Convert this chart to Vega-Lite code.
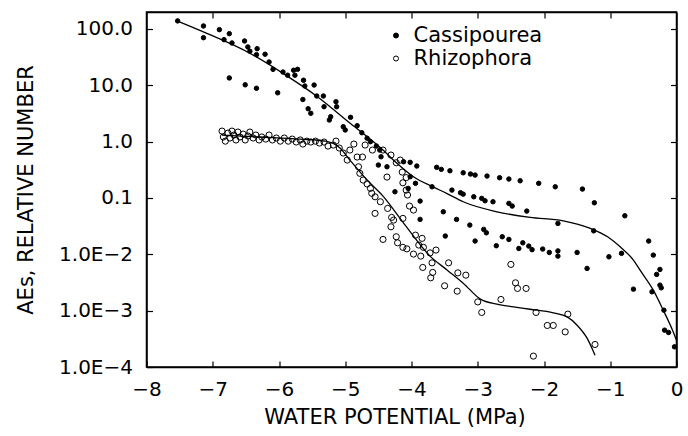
{
  "$schema": "https://vega.github.io/schema/vega-lite/v6.json",
  "width": 530,
  "height": 355,
  "autosize": {"type": "none"},
  "padding": {"left": 146.5, "top": 12, "right": 11.5, "bottom": 69},
  "background": "white",
  "config": {
    "view": {"stroke": "black", "strokeWidth": 1.5},
    "font": "DejaVu Sans",
    "axis": {
      "domainColor": "black", "domainWidth": 1.5, "tickColor": "black", "tickWidth": 1.2,
      "labelColor": "black", "titleColor": "black", "grid": false,
      "labelFont": "DejaVu Sans", "titleFont": "DejaVu Sans",
      "labelFontWeight": "normal", "titleFontWeight": "normal",
      "labelFlush": false, "labelOverlap": false, "labelFontSize": 20, "titleFontSize": 21
    },
    "legend": {"labelFont": "DejaVu Sans", "labelFontSize": 21, "labelColor": "black"}
  },
  "datasets": {
    "cas": [
      {"s":"Cassipourea","x":-7.53,"y":139},{"s":"Cassipourea","x":-7.14,"y":113},{"s":"Cassipourea","x":-7.14,"y":70.0},{"s":"Cassipourea","x":-6.90,"y":97.2},{"s":"Cassipourea","x":-6.83,"y":64.6},{"s":"Cassipourea","x":-6.75,"y":82.5},{"s":"Cassipourea","x":-6.71,"y":56.4},{"s":"Cassipourea","x":-6.52,"y":61.2},{"s":"Cassipourea","x":-6.47,"y":47.9},{"s":"Cassipourea","x":-6.44,"y":40.2},{"s":"Cassipourea","x":-6.33,"y":44.7},{"s":"Cassipourea","x":-6.34,"y":35.0},{"s":"Cassipourea","x":-6.21,"y":35.6},{"s":"Cassipourea","x":-6.15,"y":25.9},{"s":"Cassipourea","x":-6.09,"y":19.2},{"s":"Cassipourea","x":-5.94,"y":17.2},{"s":"Cassipourea","x":-5.87,"y":15.1},{"s":"Cassipourea","x":-5.78,"y":18.5},{"s":"Cassipourea","x":-5.72,"y":19.2},{"s":"Cassipourea","x":-5.76,"y":15.1},{"s":"Cassipourea","x":-5.63,"y":12.3},{"s":"Cassipourea","x":-5.61,"y":9.72},{"s":"Cassipourea","x":-5.64,"y":5.60},{"s":"Cassipourea","x":-5.56,"y":3.84},
      {"s":"Cassipourea","x":-6.75,"y":13.5},{"s":"Cassipourea","x":-6.51,"y":10.2},{"s":"Cassipourea","x":-6.34,"y":8.85},{"s":"Cassipourea","x":-6.02,"y":7.36},
      {"s":"Cassipourea","x":-5.47,"y":10.1},{"s":"Cassipourea","x":-5.52,"y":3.18},{"s":"Cassipourea","x":-5.43,"y":6.46},{"s":"Cassipourea","x":-5.33,"y":6.46},{"s":"Cassipourea","x":-5.32,"y":4.17},{"s":"Cassipourea","x":-5.14,"y":5.11},{"s":"Cassipourea","x":-5.13,"y":4.17},{"s":"Cassipourea","x":-5.22,"y":2.77},{"s":"Cassipourea","x":-5.24,"y":2.42},{"s":"Cassipourea","x":-4.92,"y":2.70},{"s":"Cassipourea","x":-5.03,"y":1.84},{"s":"Cassipourea","x":-5.00,"y":1.61},{"s":"Cassipourea","x":-4.82,"y":1.92},{"s":"Cassipourea","x":-4.75,"y":1.44},{"s":"Cassipourea","x":-4.67,"y":1.15},{"s":"Cassipourea","x":-4.62,"y":1.00},{"s":"Cassipourea","x":-4.53,"y":0.835},{"s":"Cassipourea","x":-4.48,"y":0.709},{"s":"Cassipourea","x":-4.46,"y":0.539},{"s":"Cassipourea","x":-4.50,"y":0.384},{"s":"Cassipourea","x":-4.37,"y":0.358},{"s":"Cassipourea","x":-4.12,"y":0.440},{"s":"Cassipourea","x":-4.02,"y":0.429},{"s":"Cassipourea","x":-3.92,"y":0.369},{"s":"Cassipourea","x":-4.02,"y":0.238},{"s":"Cassipourea","x":-3.94,"y":0.182},{"s":"Cassipourea","x":-4.05,"y":0.148},{"s":"Cassipourea","x":-4.25,"y":0.129},
      {"s":"Cassipourea","x":-3.62,"y":0.350},{"s":"Cassipourea","x":-3.55,"y":0.322},{"s":"Cassipourea","x":-3.42,"y":0.304},{"s":"Cassipourea","x":-3.22,"y":0.280},{"s":"Cassipourea","x":-3.11,"y":0.266},{"s":"Cassipourea","x":-3.04,"y":0.255},{"s":"Cassipourea","x":-2.86,"y":0.245},{"s":"Cassipourea","x":-2.67,"y":0.229},{"s":"Cassipourea","x":-2.53,"y":0.217},{"s":"Cassipourea","x":-2.36,"y":0.202},
      {"s":"Cassipourea","x":-3.69,"y":0.158},{"s":"Cassipourea","x":-3.39,"y":0.138},{"s":"Cassipourea","x":-3.26,"y":0.124},{"s":"Cassipourea","x":-3.22,"y":0.117},{"s":"Cassipourea","x":-3.06,"y":0.105},{"s":"Cassipourea","x":-2.94,"y":0.0984},{"s":"Cassipourea","x":-2.89,"y":0.0892},{"s":"Cassipourea","x":-2.77,"y":0.0857},{"s":"Cassipourea","x":-2.53,"y":0.0802},{"s":"Cassipourea","x":-2.48,"y":0.0718},{"s":"Cassipourea","x":-2.26,"y":0.0585},
      {"s":"Cassipourea","x":-3.87,"y":0.0881},{"s":"Cassipourea","x":-3.52,"y":0.0569},{"s":"Cassipourea","x":-3.87,"y":0.0417},{"s":"Cassipourea","x":-3.32,"y":0.0417},{"s":"Cassipourea","x":-3.12,"y":0.0330},{"s":"Cassipourea","x":-2.91,"y":0.0277},{"s":"Cassipourea","x":-2.87,"y":0.0241},{"s":"Cassipourea","x":-3.49,"y":0.0211},{"s":"Cassipourea","x":-3.04,"y":0.0172},{"s":"Cassipourea","x":-2.63,"y":0.0205},{"s":"Cassipourea","x":-2.53,"y":0.0184},{"s":"Cassipourea","x":-2.72,"y":0.0142},{"s":"Cassipourea","x":-2.32,"y":0.0160},{"s":"Cassipourea","x":-2.38,"y":0.0127},{"s":"Cassipourea","x":-2.23,"y":0.0140},
      {"s":"Cassipourea","x":-2.08,"y":0.182},{"s":"Cassipourea","x":-1.83,"y":0.158},{"s":"Cassipourea","x":-1.42,"y":0.144},{"s":"Cassipourea","x":-1.24,"y":0.0822},{"s":"Cassipourea","x":-0.78,"y":0.0483},{"s":"Cassipourea","x":-1.79,"y":0.0354},{"s":"Cassipourea","x":-1.25,"y":0.0261},{"s":"Cassipourea","x":-0.42,"y":0.0172},{"s":"Cassipourea","x":-2.18,"y":0.0121},{"s":"Cassipourea","x":-2.02,"y":0.0124},{"s":"Cassipourea","x":-1.92,"y":0.0108},{"s":"Cassipourea","x":-1.79,"y":0.0115},{"s":"Cassipourea","x":-1.79,"y":0.00929},{"s":"Cassipourea","x":-1.50,"y":0.0108},{"s":"Cassipourea","x":-1.02,"y":0.00903},{"s":"Cassipourea","x":-0.83,"y":0.0104},{"s":"Cassipourea","x":-0.35,"y":0.00968},
      {"s":"Cassipourea","x":-1.35,"y":0.00562},{"s":"Cassipourea","x":-0.65,"y":0.00241},{"s":"Cassipourea","x":-0.25,"y":0.00539},{"s":"Cassipourea","x":-0.30,"y":0.00440},{"s":"Cassipourea","x":-0.37,"y":0.00216},{"s":"Cassipourea","x":-0.25,"y":0.00284},{"s":"Cassipourea","x":-0.23,"y":0.00254},{"s":"Cassipourea","x":-0.19,"y":0.00102},{"s":"Cassipourea","x":-0.18,"y":0.000451},{"s":"Cassipourea","x":-0.12,"y":0.000410},{"s":"Cassipourea","x":-0.03,"y":0.000228}
    ],
    "rhi": [
      {"s":"Rhizophora","x":-6.86,"y":1.54},{"s":"Rhizophora","x":-6.84,"y":1.21},{"s":"Rhizophora","x":-6.81,"y":1.02},{"s":"Rhizophora","x":-6.77,"y":1.42},{"s":"Rhizophora","x":-6.74,"y":1.16},{"s":"Rhizophora","x":-6.71,"y":1.54},{"s":"Rhizophora","x":-6.68,"y":1.31},{"s":"Rhizophora","x":-6.65,"y":1.07},{"s":"Rhizophora","x":-6.62,"y":1.48},{"s":"Rhizophora","x":-6.59,"y":1.21},{"s":"Rhizophora","x":-6.54,"y":1.36},{"s":"Rhizophora","x":-6.51,"y":1.07},{"s":"Rhizophora","x":-6.47,"y":1.26},{"s":"Rhizophora","x":-6.44,"y":1.48},{"s":"Rhizophora","x":-6.39,"y":1.16},{"s":"Rhizophora","x":-6.35,"y":1.31},{"s":"Rhizophora","x":-6.30,"y":1.07},{"s":"Rhizophora","x":-6.26,"y":1.21},{"s":"Rhizophora","x":-6.20,"y":1.11},{"s":"Rhizophora","x":-6.15,"y":1.31},{"s":"Rhizophora","x":-6.10,"y":1.07},{"s":"Rhizophora","x":-6.04,"y":1.16},{"s":"Rhizophora","x":-5.98,"y":1.02},{"s":"Rhizophora","x":-5.92,"y":1.16},{"s":"Rhizophora","x":-5.86,"y":1.02},{"s":"Rhizophora","x":-5.80,"y":1.11},{"s":"Rhizophora","x":-5.74,"y":0.984},{"s":"Rhizophora","x":-5.68,"y":1.07},{"s":"Rhizophora","x":-5.64,"y":0.906},{"s":"Rhizophora","x":-5.58,"y":1.02},{"s":"Rhizophora","x":-5.52,"y":0.984},{"s":"Rhizophora","x":-5.45,"y":1.02},{"s":"Rhizophora","x":-5.39,"y":0.944},{"s":"Rhizophora","x":-5.32,"y":0.984},{"s":"Rhizophora","x":-5.26,"y":0.835},{"s":"Rhizophora","x":-5.18,"y":0.870},{"s":"Rhizophora","x":-5.14,"y":1.02},{"s":"Rhizophora","x":-5.09,"y":0.770},{"s":"Rhizophora","x":-5.03,"y":0.628},{"s":"Rhizophora","x":-4.97,"y":0.471},{"s":"Rhizophora","x":-4.93,"y":0.709},{"s":"Rhizophora","x":-4.87,"y":0.906},{"s":"Rhizophora","x":-4.82,"y":0.533},{"s":"Rhizophora","x":-4.74,"y":0.533},{"s":"Rhizophora","x":-4.70,"y":0.870},{"s":"Rhizophora","x":-4.59,"y":0.709},{"s":"Rhizophora","x":-4.43,"y":0.709},{"s":"Rhizophora","x":-4.31,"y":0.578},{"s":"Rhizophora","x":-4.37,"y":0.235},{"s":"Rhizophora","x":-4.17,"y":0.471},{"s":"Rhizophora","x":-4.14,"y":0.288},{"s":"Rhizophora","x":-4.08,"y":0.230},{"s":"Rhizophora","x":-4.06,"y":0.113},
      {"s":"Rhizophora","x":-4.80,"y":0.358},{"s":"Rhizophora","x":-4.78,"y":0.274},{"s":"Rhizophora","x":-4.73,"y":0.208},{"s":"Rhizophora","x":-4.67,"y":0.177},{"s":"Rhizophora","x":-4.62,"y":0.148},{"s":"Rhizophora","x":-4.60,"y":0.121},{"s":"Rhizophora","x":-4.55,"y":0.105},{"s":"Rhizophora","x":-4.47,"y":0.0857},{"s":"Rhizophora","x":-4.55,"y":0.0533},{"s":"Rhizophora","x":-4.36,"y":0.0653},{"s":"Rhizophora","x":-4.23,"y":0.422},{"s":"Rhizophora","x":-4.13,"y":0.186},{"s":"Rhizophora","x":-4.08,"y":0.138},{"s":"Rhizophora","x":-4.03,"y":0.0718},{"s":"Rhizophora","x":-3.97,"y":0.0610},{"s":"Rhizophora","x":-4.30,"y":0.0452},{"s":"Rhizophora","x":-4.27,"y":0.0405},{"s":"Rhizophora","x":-4.13,"y":0.0434},{"s":"Rhizophora","x":-4.31,"y":0.0308},{"s":"Rhizophora","x":-4.43,"y":0.0184},{"s":"Rhizophora","x":-4.23,"y":0.0205},{"s":"Rhizophora","x":-4.21,"y":0.0160},{"s":"Rhizophora","x":-4.13,"y":0.0133},{"s":"Rhizophora","x":-4.07,"y":0.0125},{"s":"Rhizophora","x":-3.97,"y":0.0101},{"s":"Rhizophora","x":-3.94,"y":0.0219},{"s":"Rhizophora","x":-3.84,"y":0.0192},{"s":"Rhizophora","x":-3.89,"y":0.0146},{"s":"Rhizophora","x":-3.82,"y":0.0133},{"s":"Rhizophora","x":-3.72,"y":0.0106},{"s":"Rhizophora","x":-3.63,"y":0.0119},
      {"s":"Rhizophora","x":-3.86,"y":0.00929},{"s":"Rhizophora","x":-3.69,"y":0.00706},{"s":"Rhizophora","x":-3.83,"y":0.00585},{"s":"Rhizophora","x":-3.68,"y":0.00477},{"s":"Rhizophora","x":-3.71,"y":0.00383},{"s":"Rhizophora","x":-3.44,"y":0.00706},{"s":"Rhizophora","x":-3.30,"y":0.00469},{"s":"Rhizophora","x":-3.18,"y":0.00427},{"s":"Rhizophora","x":-3.50,"y":0.00276},{"s":"Rhizophora","x":-3.31,"y":0.00222},{"s":"Rhizophora","x":-3.00,"y":0.00143},{"s":"Rhizophora","x":-2.94,"y":0.000929},{"s":"Rhizophora","x":-2.65,"y":0.00158},{"s":"Rhizophora","x":-2.50,"y":0.00662},{"s":"Rhizophora","x":-2.43,"y":0.00312},{"s":"Rhizophora","x":-2.40,"y":0.00248},{"s":"Rhizophora","x":-2.27,"y":0.00248},
      {"s":"Rhizophora","x":-2.12,"y":0.000929},{"s":"Rhizophora","x":-1.95,"y":0.000546},{"s":"Rhizophora","x":-1.86,"y":0.000546},{"s":"Rhizophora","x":-1.68,"y":0.000420},{"s":"Rhizophora","x":-1.64,"y":0.000867},{"s":"Rhizophora","x":-1.23,"y":0.000251},{"s":"Rhizophora","x":-2.16,"y":0.000156}
    ],
    "fit": [
      {"s":"Cassipourea","x":-7.54,"y":139},{"s":"Cassipourea","x":-7.15,"y":89.5},{"s":"Cassipourea","x":-6.44,"y":37.0},{"s":"Cassipourea","x":-5.94,"y":16.3},{"s":"Cassipourea","x":-5.42,"y":6.28},{"s":"Cassipourea","x":-4.93,"y":2.14},{"s":"Cassipourea","x":-4.43,"y":0.709},{"s":"Cassipourea","x":-4.22,"y":0.412},{"s":"Cassipourea","x":-3.97,"y":0.238},{"s":"Cassipourea","x":-3.67,"y":0.156},{"s":"Cassipourea","x":-3.47,"y":0.121},{"s":"Cassipourea","x":-3.22,"y":0.0857},{"s":"Cassipourea","x":-2.71,"y":0.0569},{"s":"Cassipourea","x":-2.21,"y":0.0452},{"s":"Cassipourea","x":-1.71,"y":0.0394},{"s":"Cassipourea","x":-1.30,"y":0.0288},{"s":"Cassipourea","x":-1.04,"y":0.0205},{"s":"Cassipourea","x":-0.85,"y":0.0136},{"s":"Cassipourea","x":-0.65,"y":0.00789},{"s":"Cassipourea","x":-0.55,"y":0.00524},{"s":"Cassipourea","x":-0.35,"y":0.00231},{"s":"Cassipourea","x":-0.20,"y":0.00102},{"s":"Cassipourea","x":-0.06,"y":0.000451},{"s":"Cassipourea","x":0,"y":0.000299},
      {"s":"Rhizophora","x":-6.86,"y":1.31},{"s":"Rhizophora","x":-6.29,"y":1.21},{"s":"Rhizophora","x":-5.68,"y":1.11},{"s":"Rhizophora","x":-5.30,"y":1.02},{"s":"Rhizophora","x":-5.08,"y":0.770},{"s":"Rhizophora","x":-4.93,"y":0.471},{"s":"Rhizophora","x":-4.67,"y":0.208},{"s":"Rhizophora","x":-4.43,"y":0.108},{"s":"Rhizophora","x":-4.13,"y":0.0373},{"s":"Rhizophora","x":-3.72,"y":0.00929},{"s":"Rhizophora","x":-3.46,"y":0.00524},{"s":"Rhizophora","x":-3.22,"y":0.00308},{"s":"Rhizophora","x":-2.96,"y":0.00160},{"s":"Rhizophora","x":-2.71,"y":0.00130},{"s":"Rhizophora","x":-2.46,"y":0.00117},{"s":"Rhizophora","x":-2.21,"y":0.00106},{"s":"Rhizophora","x":-1.86,"y":0.000914},{"s":"Rhizophora","x":-1.65,"y":0.000776},{"s":"Rhizophora","x":-1.50,"y":0.000552},{"s":"Rhizophora","x":-1.35,"y":0.000325},{"s":"Rhizophora","x":-1.23,"y":0.000162}
    ]
  },
  "layer": [
    {
      "data": {"name": "cas"},
      "mark": {"type": "circle", "size": 20, "stroke": "black", "strokeWidth": 1, "opacity": 1},
      "encoding": {
        "x": {"field": "x", "type": "quantitative",
          "scale": {"domain": [-8, 0], "nice": false, "zero": false},
          "axis": {"orient": "bottom", "values": [-8,-7,-6,-5,-4,-3,-2,-1,0], "format": "d",
            "tickSize": -6, "labelPadding": 18, "title": "WATER POTENTIAL (MPa)",
            "titleX": 248, "titleY": 50, "titleAlign": "center", "titleBaseline": "middle"}},
        "y": {"field": "y", "type": "quantitative",
          "scale": {"type": "log", "domain": [0.0001, 200], "nice": false},
          "axis": {"orient": "left", "values": [0.0001,0.001,0.01,0.1,1,10,100],
            "labelExpr": "datum.value >= 0.1 ? format(datum.value, '.1f') : '1.0E\u2212' + round(-log(datum.value)/LN10)",
            "tickSize": -6, "labelPadding": 20, "title": "AEs, RELATIVE NUMBER",
            "titleAngle": 270, "titleX": -120, "titleY": 177.5, "titleAlign": "center", "titleBaseline": "middle"}},
        "fill": {"field": "s", "type": "nominal",
          "scale": {"domain": ["Cassipourea", "Rhizophora"], "range": ["black", "transparent"]},
          "legend": {"title": null, "orient": "none", "legendX": 239, "legendY": 13, "padding": 0,
            "symbolType": "circle", "symbolSize": 25, "symbolStrokeColor": "black", "symbolStrokeWidth": 1,
            "labelOffset": 7, "rowPadding": 1, "labelLimit": 0}}
      }
    },
    {
      "data": {"name": "rhi"},
      "mark": {"type": "circle", "size": 38, "stroke": "black", "strokeWidth": 1, "opacity": 1},
      "encoding": {
        "x": {"field": "x", "type": "quantitative", "axis": null},
        "y": {"field": "y", "type": "quantitative", "axis": null},
        "fill": {"field": "s", "type": "nominal"}
      }
    },
    {
      "data": {"name": "fit"},
      "mark": {"type": "line", "color": "black", "strokeWidth": 1.3, "interpolate": "monotone"},
      "encoding": {
        "x": {"field": "x", "type": "quantitative",
          "axis": {"orient": "top", "values": [-7,-6,-5,-4,-3,-2,-1], "labels": false, "tickSize": -6, "title": null}},
        "y": {"field": "y", "type": "quantitative",
          "axis": {"orient": "right", "values": [0.001,0.01,0.1,1,10,100], "labels": false, "tickSize": -6, "title": null}},
        "detail": {"field": "s"}
      }
    }
  ],
  "resolve": {"axis": {"x": "independent", "y": "independent"}}
}
